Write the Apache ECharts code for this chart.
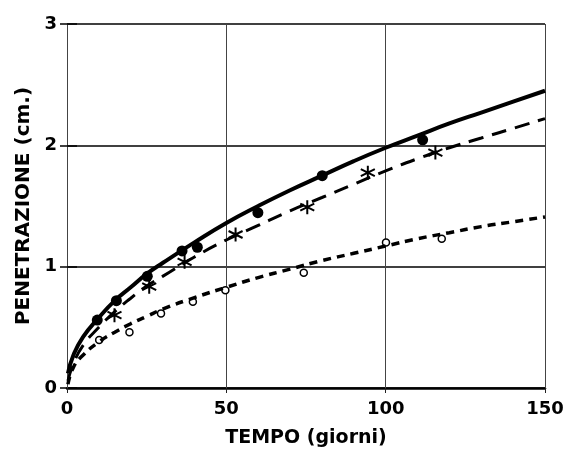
<!DOCTYPE html>
<html><head><meta charset="utf-8">
<script src="https://cdn.jsdelivr.net/npm/echarts@6/dist/echarts.min.js"></script>
<style>html,body{margin:0;padding:0;background:#fff}#c{width:579px;height:456px}</style>
</head><body><div id="c"></div>
<script>
const xTicks = [0, 50, 100, 150];
const yTicks = [0, 1, 2, 3];
const curveX = [0.3, 2, 5, 10, 15, 20, 25, 30, 40, 50, 60, 70, 80, 90, 100, 110, 120, 130, 140, 150];
const solidY = [0.12, 0.27, 0.42, 0.58, 0.72, 0.83, 0.94, 1.03, 1.2, 1.36, 1.5, 1.63, 1.75, 1.87, 1.98, 2.08, 2.18, 2.27, 2.36, 2.45];
const longDashY = [0.06, 0.2, 0.35, 0.5, 0.63, 0.74, 0.84, 0.92, 1.08, 1.22, 1.34, 1.46, 1.57, 1.68, 1.79, 1.89, 1.98, 2.06, 2.14, 2.22];
const shortDashY = [0.03, 0.17, 0.27, 0.38, 0.46, 0.53, 0.59, 0.65, 0.745, 0.83, 0.91, 0.98, 1.05, 1.11, 1.17, 1.23, 1.28, 1.33, 1.37, 1.41];
const filledX = [9.5, 15.5, 25.2, 36.1, 40.9, 59.9, 80.1, 111.6];
const filledY = [0.56, 0.72, 0.92, 1.13, 1.16, 1.445, 1.75, 2.045];
const starX = [14.9, 25.8, 36.9, 52.9, 75.4, 94.4, 115.6];
const starY = [0.6, 0.835, 1.04, 1.265, 1.49, 1.775, 1.94];
const hollowX = [10.1, 19.6, 29.5, 39.5, 49.7, 74.3, 100.1, 117.6];
const hollowY = [0.395, 0.46, 0.615, 0.71, 0.805, 0.95, 1.2, 1.23];
const xName = 'TEMPO (giorni)';
const yName = 'PENETRAZIONE (cm.)';

const pair = (xs, ys) => xs.map((x, i) => [x, ys[i]]);
const FONT = '"DejaVu Sans", sans-serif';
const star = 'path://M0,-10L0,10M-8.66,-5L8.66,5M-8.66,5L8.66,-5';

const chart = echarts.init(document.getElementById('c'), null, {renderer: 'canvas'});
chart.setOption({
  backgroundColor: '#fff',
  animation: false,
  grid: {left: 67, right: 34, top: 24, bottom: 68},
  xAxis: [{
    type: 'value', min: 0, max: 150, interval: 50,
    name: xName, nameLocation: 'middle', nameGap: 41,
    nameTextStyle: {fontFamily: FONT, fontWeight: 'bold', fontSize: 19, color: '#000'},
    axisLine: {show: true, lineStyle: {color: '#000', width: 2.5}},
    axisTick: {show: true, length: 5, lineStyle: {color: '#222', width: 1}},
    axisLabel: {fontFamily: FONT, fontWeight: 'bold', fontSize: 18, color: '#000', margin: 12,
      formatter: v => xTicks.includes(v) ? String(v) : ''},
    splitLine: {show: true, lineStyle: {color: '#444', width: 1}}
  }, {
    type: 'value', min: 0, max: 150, interval: 50, position: 'top',
    axisLine: {show: false}, axisLabel: {show: false}, splitLine: {show: false},
    axisTick: {show: true, length: 13, lineStyle: {color: '#444', width: 1}}
  }],
  yAxis: [{
    type: 'value', min: 0, max: 3, interval: 1,
    name: yName, nameLocation: 'middle', nameGap: 33,
    nameTextStyle: {fontFamily: FONT, fontWeight: 'bold', fontSize: 20, color: '#000'},
    axisLine: {show: false},
    axisTick: {show: true, length: 7, lineStyle: {color: '#000', width: 1.5}},
    axisLabel: {fontFamily: FONT, fontWeight: 'bold', fontSize: 18, color: '#000', margin: 10,
      formatter: v => yTicks.includes(v) ? String(v) : ''},
    splitLine: {show: true, lineStyle: {color: '#000', width: 1.5}}
  }, {
    type: 'value', min: 0, max: 3, interval: 1, position: 'right',
    axisLine: {show: false}, axisLabel: {show: false}, splitLine: {show: false},
    axisTick: {show: true, length: 10, lineStyle: {color: '#000', width: 1.5}}
  }],
  series: [
    {type: 'line', data: pair(curveX, solidY), smooth: true, showSymbol: false, silent: true,
      lineStyle: {color: '#000', width: 4}},
    {type: 'line', data: pair(curveX, longDashY), smooth: true, showSymbol: false, silent: true,
      lineStyle: {color: '#000', width: 3, type: [15, 9]}},
    {type: 'line', data: pair(curveX, shortDashY), smooth: true, showSymbol: false, silent: true,
      lineStyle: {color: '#000', width: 3.5, type: [8, 6]}},
    {type: 'scatter', data: pair(filledX, filledY), symbol: 'circle', symbolSize: 11,
      itemStyle: {color: '#000', opacity: 1}},
    {type: 'scatter', data: pair(starX, starY), symbol: star, symbolSize: 14,
      itemStyle: {color: 'none', borderColor: '#000', borderWidth: 2, opacity: 1}},
    {type: 'scatter', data: pair(hollowX, hollowY), symbol: 'circle', symbolSize: 7,
      itemStyle: {color: '#fff', borderColor: '#000', borderWidth: 1.5, opacity: 1}}
  ]
});
</script></body></html>
